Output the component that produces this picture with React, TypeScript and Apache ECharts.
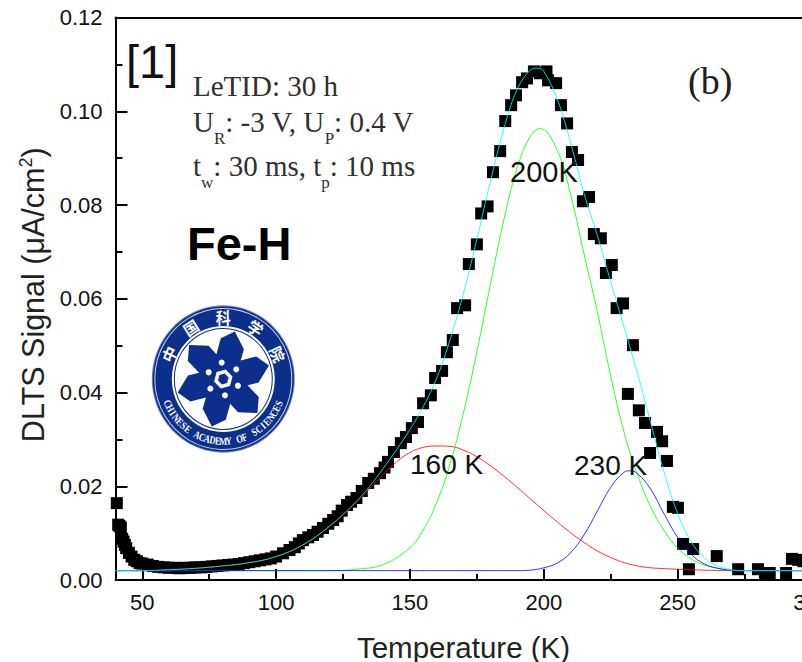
import React, { useEffect, useRef } from "react";
import * as echarts from "echarts";

const scatterT = [40.5,41,41.5,42,42.5,43,43.5,44,45,46,47,48,49,50,52,54,56,58,60,62,64,66,68,70,72,74,76,78,80,82,84,86,88,90,92,94,96,98,100,102.6,105,107,108.5,110,112,113.8,115.5,117.5,119.5,121.3,123,124.5,126.5,128,130,132,134.4,136.5,138.8,140.5,141.8,144,146.6,148.5,150.7,153,154.9,157.8,159.4,162,163.8,166,167.6,170.6,172,175,176.6,179,181,183.7,185.6,187.8,189.6,191.9,193.7,196.3,198.6,201,201.6,204.6,206.4,208.7,210.5,212.8,214.6,216.9,218.7,221.3,223.2,225.4,227.2,229.6,233.3,231.4,235.5,237.8,242.3,244.2,239.7,246,248.2,250.1,252,255.8,254.2,264.6,272.6,280,282.6,284.4,290.5,292.7,295,297];
const scatterY = [0.0164,0.0118,0.0115,0.0112,0.0088,0.0082,0.0075,0.0068,0.0058,0.005,0.0043,0.004,0.0036,0.0035,0.0033,0.003,0.0028,0.0027,0.0026,0.0026,0.0025,0.0026,0.0026,0.0027,0.0027,0.0028,0.0029,0.003,0.0031,0.0032,0.0033,0.0034,0.0036,0.0038,0.004,0.0042,0.0044,0.0046,0.005,0.0057,0.0064,0.007,0.0078,0.0085,0.0091,0.0096,0.0103,0.0111,0.012,0.0128,0.0136,0.0148,0.016,0.0167,0.0175,0.019,0.0207,0.0216,0.0228,0.024,0.0252,0.0273,0.0292,0.0305,0.0324,0.0337,0.0377,0.0394,0.0431,0.0446,0.0486,0.0512,0.058,0.0586,0.0674,0.0716,0.0782,0.0797,0.087,0.0915,0.0979,0.1013,0.1034,0.1062,0.107,0.1085,0.1081,0.1085,0.1066,0.106,0.1013,0.0974,0.0913,0.0896,0.0808,0.0817,0.0738,0.0729,0.0655,0.0672,0.058,0.059,0.0501,0.0397,0.0362,0.0335,0.0316,0.0296,0.0271,0.0254,0.0156,0.0154,0.0077,0.0066,0.0023,0.0051,0.0023,0.0023,0.0015,0.0015,0.0015,0.0045,0.0043,0.004];

const redT = [40,50,60,70,80,90,100,110,120,130,135,140,145,150,155,160,165,170,175,180,185,190,195,200,205,210,215,220,225,230,235,240,250,260,270,300];
const redY = [0.002,0.002,0.0022,0.0025,0.003,0.0037,0.005,0.0075,0.0115,0.0165,0.0195,0.0225,0.0252,0.0272,0.0283,0.0286,0.0285,0.0277,0.0263,0.0244,0.0222,0.0198,0.0173,0.0148,0.0124,0.0101,0.008,0.0062,0.0048,0.0037,0.003,0.0026,0.0023,0.0021,0.002,0.002];
const greenT = [40,120,130,140,150,155,160,165,170,175,180,185,190,195,198.7,205,210,215,220,225,230,235,240,245,250,255,260,265,270,275,300];
const greenY = [0.002,0.002,0.0023,0.0033,0.0069,0.0107,0.0165,0.0248,0.0357,0.0487,0.0629,0.0766,0.0878,0.0947,0.0963,0.0917,0.0823,0.0696,0.0572,0.0435,0.0315,0.0225,0.0155,0.0105,0.0068,0.0045,0.0032,0.0025,0.0021,0.002,0.002];
const blueT = [40,190,195,200,205,210,215,220,225,230,232.2,235,240,245,250,255,260,265,270,275,300];
const blueY = [0.002,0.002,0.0021,0.0026,0.0036,0.0058,0.0096,0.0147,0.0198,0.023,0.0233,0.0227,0.0193,0.014,0.0091,0.0055,0.0034,0.0025,0.0021,0.002,0.002];
const cyanT = [40,50,60,70,80,90,100,110,120,130,135,140,145,150,155,160,165,170,175,180,185,190,195,197.5,200,205,210,215,220,225,230,235,240,245,250,255,260,265,270,275,300];
const cyanY = [0.002,0.002,0.0022,0.0025,0.003,0.0037,0.005,0.0075,0.0115,0.0168,0.02,0.0238,0.0278,0.0321,0.037,0.0431,0.0513,0.0612,0.0727,0.0849,0.0961,0.1046,0.1088,0.1092,0.1085,0.1026,0.0933,0.0825,0.0735,0.0636,0.0539,0.0441,0.0334,0.0229,0.0142,0.0082,0.0047,0.003,0.0022,0.002,0.002];

const xMajorTicks = [50,100,150,200,250,300];
const xMinorTicks = [75,125,175,225,275];
const logoRingText = "CHINESE ACADEMY OF SCIENCES";
const logoTopChars = ["中","国","科","学","院"];

const zip = (xs: number[], ys: number[]) => xs.map((x, i) => [x, ys[i]]);
const NAVY = "#0c2f8c";
const AXIS = "#000000";

function logoChildren() {
  const rad = (d: number) => (d * Math.PI) / 180;
  const pol = (r: number, a: number, off = 0): number[] => [
    r * Math.cos(rad(a)) - off * Math.sin(rad(a)),
    -(r * Math.sin(rad(a)) + off * Math.cos(rad(a))),
  ];
  const star: number[][] = [];
  for (let k = 0; k < 6; k++) {
    const a = 76 + 60 * k;
    star.push(pol(25, a - 30));
    star.push(pol(33, a, -13));
    star.push(pol(47.5, a, 0));
    star.push(pol(37.7, a, 12));
  }
  const hex = (r: number) => [0, 1, 2, 3, 4, 5].map((k) => pol(r, 15 + 60 * k));
  const out: any[] = [
    { type: "circle", shape: { r: 71.5 }, style: { fill: "#6f83b4" }, z: 100 },
    { type: "circle", shape: { r: 70.5 }, style: { fill: NAVY }, z: 100 },
    { type: "circle", shape: { r: 68.5 }, style: { fill: "none", stroke: "#c9d3ea", lineWidth: 1 }, z: 100 },
    { type: "circle", shape: { r: 51.5 }, style: { fill: "#ffffff" }, z: 100 },
    { type: "circle", shape: { r: 49 }, style: { fill: "#ffffff", stroke: NAVY, lineWidth: 1 }, z: 100 },
    { type: "polygon", shape: { points: star }, style: { fill: NAVY }, z: 101 },
    { type: "polygon", shape: { points: hex(9.5) }, style: { fill: "#ffffff" }, z: 102 },
    { type: "polygon", shape: { points: hex(5.5) }, style: { fill: NAVY }, z: 103 },
  ];
  for (let k = 0; k < 6; k++) {
    const [cx, cy] = pol(16, 96 + 60 * k);
    out.push({ type: "circle", x: cx, y: cy, shape: { r: 3 }, style: { fill: "#ffffff" }, z: 102 });
  }
  const n = logoRingText.length;
  logoRingText.split("").forEach((ch, i) => {
    if (ch === " ") return;
    const phi = 203 + (134 * i) / (n - 1);
    const [x, y] = pol(60, phi);
    out.push({
      type: "text", x, y, rotation: rad(phi - 270), scaleX: 0.8,
      style: { text: ch, fontFamily: "Liberation Serif", fontSize: 10.5, fontWeight: "bold", fill: "#ffffff", align: "center", verticalAlign: "middle" },
      z: 105,
    });
  });
  logoTopChars.forEach((ch, i) => {
    const a = 156 - 33 * i;
    const [x, y] = pol(60, a);
    out.push({
      type: "text", x, y, rotation: rad(a - 90),
      style: { text: ch, fontFamily: "Noto Sans CJK SC", fontSize: 15, fontWeight: "bold", fill: "#ffffff", align: "center", verticalAlign: "middle" },
      z: 105,
    });
  });
  return out;
}

const serifRich = {
  a: { fontFamily: "Liberation Serif", fontSize: 29, fill: "#303030", color: "#303030" },
  s: { fontFamily: "Liberation Serif", fontSize: 17, fill: "#303030", color: "#303030", verticalAlign: "bottom", lineHeight: 50 },
};

function label(x: number, y: number, text: string, fontSize: number, extra: any = {}) {
  return {
    type: "text", x, y, z: 120,
    style: { text, fontFamily: "Liberation Sans", fontSize, fill: "#111111", verticalAlign: "middle", ...extra },
  };
}

export default function App() {
  const ref = useRef<HTMLDivElement>(null);
  useEffect(() => {
    const chart = echarts.init(ref.current!, null, { renderer: "svg" });
    const thin = (color: string) => ({ width: 1, color, opacity: 0.8 });
    const baseX = { type: "value", min: 40, max: 300, splitLine: { show: false }, axisLine: { show: false, onZero: false }, axisLabel: { show: false }, axisTick: { show: false } };
    chart.setOption({
      animation: false,
      backgroundColor: "#ffffff",
      grid: { left: 115.5, top: 17.5, width: 696, height: 562.5, containLabel: false, outerBoundsMode: "none" },
      xAxis: [
        {
          ...baseX,
          position: "bottom",
          name: "Temperature (K)",
          nameLocation: "middle",
          nameGap: 52,
          nameTextStyle: { fontFamily: "Liberation Sans", fontSize: 29.5, color: "#222222" },
          axisLine: { show: true, onZero: false, lineStyle: { color: AXIS, width: 2 } },
          axisTick: { show: true, inside: true, length: 11, lineStyle: { color: AXIS, width: 2 }, customValues: xMajorTicks },
          axisLabel: { show: true, fontFamily: "Liberation Sans", fontSize: 22, color: "#111111", margin: 11, customValues: xMajorTicks },
        },
        {
          ...baseX,
          position: "bottom",
          axisTick: { show: true, inside: true, length: 6, lineStyle: { color: AXIS, width: 2 }, customValues: xMinorTicks },
        },
        {
          ...baseX,
          position: "top",
          axisLine: { show: true, onZero: false, lineStyle: { color: AXIS, width: 2 } },
        },
      ],
      yAxis: {
        type: "value",
        min: 0,
        max: 0.12,
        interval: 0.02,
        name: "{a|DLTS Signal (μA/cm}{s|2}{a|)}",
        nameLocation: "middle",
        nameGap: 66,
        nameRotate: 90,
        nameTextStyle: {
          padding: [0, 0, 0, 8],
          rich: {
            a: { fontFamily: "Liberation Sans", fontSize: 30.5, color: "#222222" },
            s: { fontFamily: "Liberation Sans", fontSize: 18, color: "#222222", verticalAlign: "top", lineHeight: 32 },
          },
        },
        splitLine: { show: false },
        axisLine: { show: true, onZero: false, lineStyle: { color: AXIS, width: 2 } },
        axisTick: { show: true, inside: true, length: 12, lineStyle: { color: AXIS, width: 2 } },
        minorTick: { show: true, splitNumber: 2, length: 7, lineStyle: { color: AXIS, width: 2 } },
        axisLabel: { fontFamily: "Liberation Sans", fontSize: 22, color: "#111111", margin: 13, formatter: (v: number) => v.toFixed(2) },
      },
      series: [
        { name: "Data", type: "scatter", symbol: "rect", symbolSize: 12, itemStyle: { color: "#000000", opacity: 1 }, data: zip(scatterT, scatterY), z: 2 },
        { name: "160 K", type: "line", smooth: 0.4, showSymbol: false, lineStyle: thin("#ff0000"), data: zip(redT, redY), z: 3 },
        { name: "200 K", type: "line", smooth: 0.4, showSymbol: false, lineStyle: thin("#00ff00"), data: zip(greenT, greenY), z: 3 },
        { name: "230 K", type: "line", smooth: 0.4, showSymbol: false, lineStyle: thin("#0000ff"), data: zip(blueT, blueY), z: 4 },
        { name: "Fit", type: "line", smooth: 0.4, showSymbol: false, lineStyle: thin("#00ffff"), data: zip(cyanT, cyanY), z: 5 },
      ],
      graphic: [
        label(126, 61, "[1]", 47),
        label(187, 243, "Fe-H", 47, { fontWeight: "bold", fill: "#000000" }),
        label(510, 172, "200K", 29),
        label(410, 464, "160 K", 28),
        label(574, 465, "230 K", 28),
        { type: "text", x: 688, y: 81, z: 120, style: { text: "(b)", fontFamily: "Liberation Serif", fontSize: 38, fill: "#202020", verticalAlign: "middle" } },
        { type: "text", x: 193, y: 86, z: 120, style: { text: "LeTID: 30 h", fontFamily: "Liberation Serif", fontSize: 29, fill: "#303030", verticalAlign: "middle" } },
        { type: "text", x: 193, y: 122, z: 120, style: { text: "{a|U}{s|R}{a|: -3 V, U}{s|P}{a|: 0.4 V}", rich: serifRich, verticalAlign: "middle" } },
        { type: "text", x: 193, y: 166, z: 120, style: { text: "{a|t}{s|w}{a|: 30 ms, t}{s|p}{a|: 10 ms}", rich: serifRich, verticalAlign: "middle" } },
        { type: "group", x: 223.3, y: 379, scaleX: 1, scaleY: 1.03, children: logoChildren() },
      ],
    });
    return () => chart.dispose();
  }, []);
  return (
    <div style={{ position: "absolute", left: 0, top: 0, width: 802, height: 662, overflow: "hidden", background: "#fff" }}>
      <div ref={ref} style={{ width: 880, height: 662 }} />
    </div>
  );
}
